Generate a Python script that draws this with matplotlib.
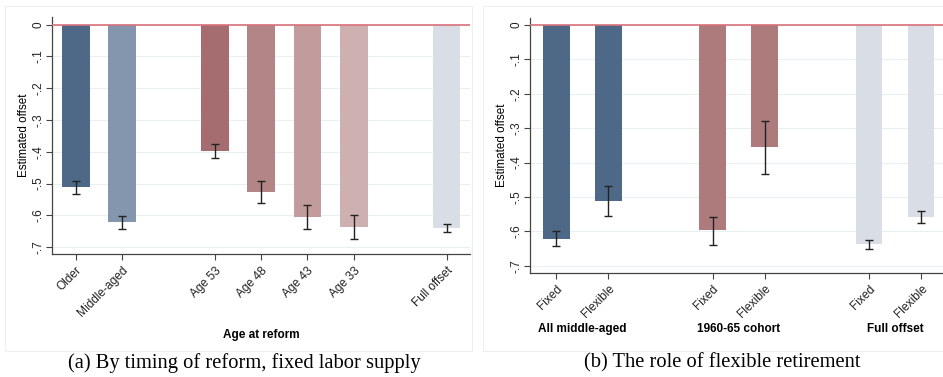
import numpy as np
import matplotlib.pyplot as plt
from matplotlib.patches import Rectangle

plt.rcParams['font.family'] = ['Liberation Sans', 'DejaVu Sans']

# Panel (a): by timing of reform
a_labels = ['Older', 'Middle-aged', 'Age 53', 'Age 48', 'Age 43', 'Age 33', 'Full offset']
a_pos = [0, 1, 3, 4, 5, 6, 8]
a_vals = [-0.512, -0.621, -0.398, -0.527, -0.605, -0.637, -0.640]
a_lo = [-0.532, -0.643, -0.421, -0.561, -0.642, -0.674, -0.652]
a_hi = [-0.492, -0.602, -0.374, -0.492, -0.568, -0.600, -0.627]
a_colors = ['#4e6887', '#8396ae', '#a56d6f', '#b38586', '#c29b9c', '#cfb0b1', '#d9dee6']

# Panel (b): flexible retirement
b_labels = ['Fixed', 'Flexible', 'Fixed', 'Flexible', 'Fixed', 'Flexible']
b_pos = [0, 1, 3, 4, 6, 7]
b_vals = [-0.621, -0.511, -0.597, -0.354, -0.638, -0.559]
b_lo = [-0.643, -0.556, -0.639, -0.433, -0.651, -0.576]
b_hi = [-0.600, -0.468, -0.558, -0.278, -0.626, -0.542]
b_colors = ['#4e6887', '#4e6887', '#ae7b7c', '#ae7b7c', '#d9dee6', '#d9dee6']
b_groups = ['All middle-aged', '1960-65 cohort', 'Full offset']

fig = plt.figure(figsize=(9.43, 3.77), dpi=100)

# faint frames around each panel
for x0, w in [(0.005, 0.496), (0.512, 0.49)]:
    fig.patches.append(Rectangle((x0, 0.07), w, 0.915, transform=fig.transFigure,
                                 fill=False, edgecolor='#eef0f0', linewidth=0.8))

ax1 = fig.add_axes([0.0551, 0.326, 0.443, 0.628])
ax2 = fig.add_axes([0.5617, 0.277, 0.44, 0.675])


def draw_panel(ax, pos, vals, lo, hi, colors, labels, width, xlim, ylim):
    ax.bar(pos, vals, width=width, color=colors, zorder=2)
    vals = np.array(vals)
    # hi is the less negative end of the interval
    ax.errorbar(pos, vals, yerr=[vals - np.array(lo), np.array(hi) - vals],
                fmt='none', ecolor='#222222', elinewidth=1, capsize=3, capthick=1, zorder=3)
    ax.axhline(0, color='#d9707a', linewidth=1.2, zorder=4)
    ax.set_xlim(*xlim)
    ax.set_ylim(*ylim)
    ticks = np.arange(0, -0.75, -0.1)
    ax.set_yticks(ticks)
    ax.set_yticklabels(['0'] + ['-.%d' % i for i in range(1, 8)], rotation=90,
                       va='center', fontsize=8.5)
    ax.set_xticks(pos)
    ax.set_xticklabels(labels, rotation=45, ha='right', rotation_mode='anchor', fontsize=8.6)
    ax.grid(axis='y', color='#e8f0f1', linewidth=0.8, zorder=0)
    ax.set_axisbelow(True)
    for s in ['top', 'right']:
        ax.spines[s].set_visible(False)
    for s in ['left', 'bottom']:
        ax.spines[s].set_color('#444444')
        ax.spines[s].set_linewidth(0.9)
    ax.tick_params(colors='#444444', length=4, width=0.8, labelcolor='#222222')
    ax.tick_params(axis='y', pad=1.5)
    ax.set_ylabel('Estimated offset', fontsize=8.4)
    ax.yaxis.set_label_coords(-0.053, 0.5)


draw_panel(ax1, a_pos, a_vals, a_lo, a_hi, a_colors, a_labels, 0.6,
           (-0.51, 8.5), (-0.722, 0.023))
ax1.set_xlabel('Age at reform', fontsize=8.5, fontweight='bold')
ax1.xaxis.set_label_coords(0.5, -0.317)

draw_panel(ax2, b_pos, b_vals, b_lo, b_hi, b_colors, b_labels, 0.51,
           (-0.51, 7.45), (-0.72, 0.02))
for i, g in enumerate(b_groups):
    ax2.text(b_pos[2 * i] + 0.5, -0.221, g, transform=ax2.get_xaxis_transform(),
             ha='center', va='center', fontsize=8.5, fontweight='bold')

fig.text(0.259, 0.038, '(a) By timing of reform, fixed labor supply', ha='center',
         va='center', fontsize=14.8, family='Liberation Serif')
fig.text(0.766, 0.038, '(b) The role of flexible retirement', ha='center',
         va='center', fontsize=14.8, family='Liberation Serif')

fig.savefig('out.png', dpi=100)
